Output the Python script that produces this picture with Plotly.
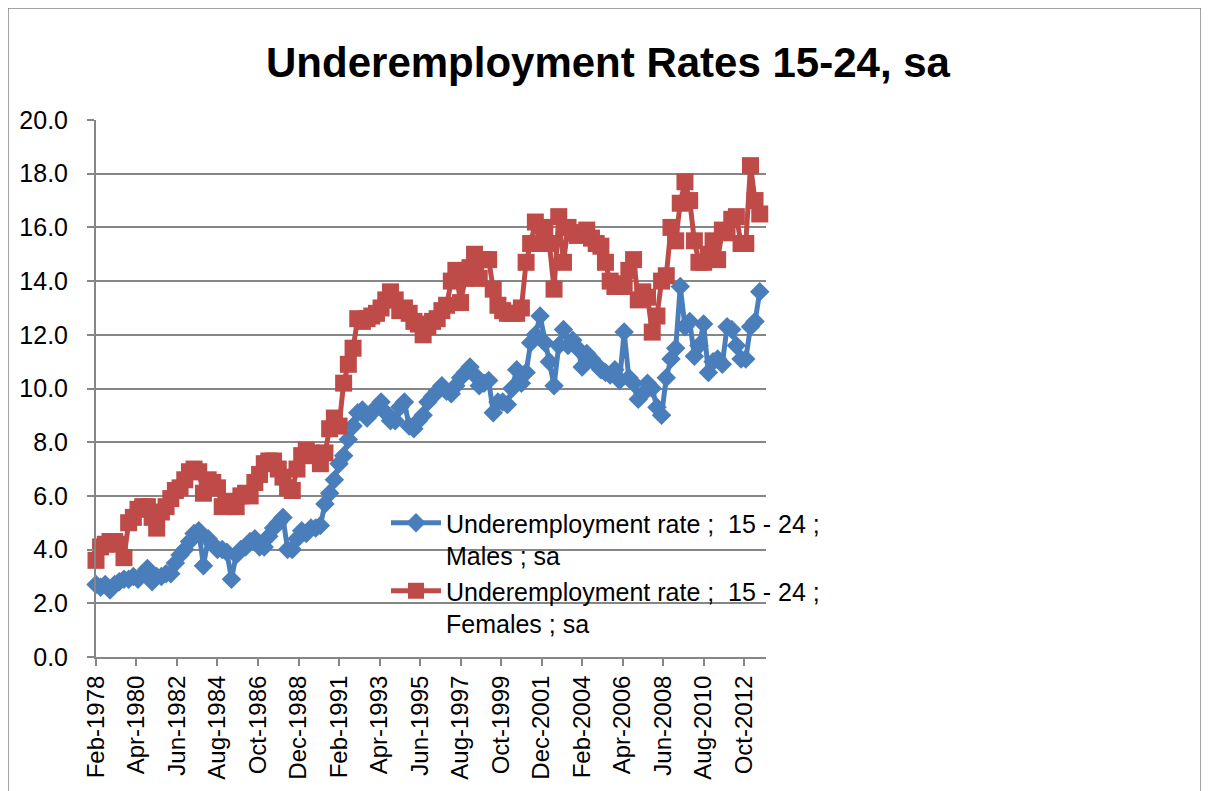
import pandas as pd
import plotly.graph_objects as go

# Quarterly observations, Feb-1978 .. Aug-2013
start_date = "1978-02-01"
n_points = 143

males = [
    2.7, 2.6, 2.7, 2.5, 2.7, 2.8, 2.9, 2.9, 3.0, 2.9,
    3.1, 3.3, 2.8, 3.0, 3.0, 3.1, 3.1, 3.5, 3.8, 4.0,
    4.3, 4.6, 4.7, 3.4, 4.4, 4.2, 4.0, 4.0, 3.9, 2.9,
    3.8, 4.0, 4.1, 4.3, 4.4, 4.1, 4.1, 4.5, 4.8, 5.0,
    5.2, 4.0, 4.0, 4.4, 4.7, 4.6, 4.8, 4.8, 4.9, 5.7,
    6.1, 6.6, 7.2, 7.5, 8.1, 8.6, 9.1, 9.2, 8.9, 9.1,
    9.3, 9.5, 9.1, 8.8, 8.8, 9.3, 9.5, 8.6, 8.5, 8.8,
    9.0, 9.5, 9.7, 9.9, 10.1, 9.9, 9.8, 10.1, 10.4, 10.6,
    10.8, 10.5, 10.1, 10.2, 10.3, 9.1, 9.5, 9.5, 9.4, 10.0,
    10.7, 10.2, 10.6, 11.7, 12.0, 12.7, 11.7, 11.0, 10.1, 11.6,
    12.2, 11.6, 11.8, 11.5, 10.8, 11.3, 11.1, 10.9, 10.7, 10.6,
    10.5, 10.7, 10.3, 12.1, 10.4, 10.2, 9.6, 9.8, 10.2, 10.0,
    9.3, 9.0, 10.4, 11.1, 11.5, 13.8, 12.3, 12.5, 11.2, 11.6,
    12.4, 10.6, 11.0, 11.1, 10.9, 12.3, 12.2, 11.6, 11.1, 11.1,
    12.3, 12.5, 13.6,
]

females = [
    3.6, 4.1, 4.2, 4.3, 4.3, 4.2, 3.7, 5.0, 5.2, 5.5,
    5.6, 5.6, 5.2, 4.8, 5.4, 5.6, 5.9, 6.2, 6.3, 6.6,
    6.9, 7.0, 6.9, 6.1, 6.6, 6.5, 6.3, 5.6, 5.7, 5.8,
    5.6, 6.0, 6.1, 6.0, 6.5, 6.8, 7.2, 7.3, 7.3, 7.0,
    6.7, 6.3, 6.2, 7.0, 7.5, 7.7, 7.6, 7.5, 7.2, 7.6,
    8.5, 8.9, 8.6, 10.2, 10.9, 11.5, 12.6, 12.5, 12.6, 12.7,
    12.8, 13.0, 13.3, 13.6, 13.3, 12.9, 13.0, 12.8, 12.5, 12.4,
    12.0, 12.3, 12.5, 12.6, 12.9, 13.1, 14.0, 14.4, 13.2, 14.1,
    14.5, 15.0, 14.1, 14.8, 14.8, 13.7, 13.1, 12.9, 12.8, 12.8,
    12.8, 13.0, 14.7, 15.4, 16.2, 15.4, 16.0, 15.4, 13.7, 16.4,
    14.7, 16.0, 15.8, 15.7, 15.8, 15.9, 15.6, 15.4, 15.3, 14.7,
    14.0, 13.8, 13.9, 13.8, 14.4, 14.8, 13.3, 13.6, 13.4, 12.1,
    12.7, 14.0, 14.2, 16.0, 15.5, 16.9, 17.7, 17.0, 15.5, 14.7,
    14.7, 15.0, 15.5, 14.8, 15.9, 15.8, 16.3, 16.4, 15.4, 15.4,
    18.3, 17.0, 16.5,
]

tick_dates = ["1978-02-01", "1980-04-01", "1982-06-01", "1984-08-01", "1986-10-01",
              "1988-12-01", "1991-02-01", "1993-04-01", "1995-06-01", "1997-08-01",
              "1999-10-01", "2001-12-01", "2004-02-01", "2006-04-01", "2008-06-01",
              "2010-08-01", "2012-10-01"]
tick_labels = ["Feb-1978", "Apr-1980", "Jun-1982", "Aug-1984", "Oct-1986",
               "Dec-1988", "Feb-1991", "Apr-1993", "Jun-1995", "Aug-1997",
               "Oct-1999", "Dec-2001", "Feb-2004", "Apr-2006", "Jun-2008",
               "Aug-2010", "Oct-2012"]

y_ticks = [0, 2, 4, 6, 8, 10, 12, 14, 16, 18, 20]

series_names = ["Underemployment rate ;  15 - 24 ;<br>Males ; sa",
                "Underemployment rate ;  15 - 24 ;<br>Females ; sa"]
title_text = "Underemployment Rates 15-24, sa"

dates = pd.date_range(start_date, periods=n_points, freq="3MS")

BLUE = "#4A7EBB"
RED = "#BE4B48"
GRID = "#868686"
FONT = "Liberation Sans, Arial, sans-serif"

fig = go.Figure()
fig.add_trace(go.Scatter(
    x=dates, y=males, name=series_names[0], mode="lines+markers",
    line=dict(color=BLUE, width=5),
    marker=dict(symbol="diamond", size=15, color=BLUE, line=dict(width=0)),
    cliponaxis=False,
))
fig.add_trace(go.Scatter(
    x=dates, y=females, name=series_names[1], mode="lines+markers",
    line=dict(color=RED, width=5),
    marker=dict(symbol="square", size=17, color=RED, line=dict(width=0)),
    cliponaxis=False,
))

# page offset of the figure (browser body margin)
OFF = 8
W, H = 1209 - OFF, 791 - OFF
# plot area in page pixels
PL, PR, PT, PB = 96, 766, 120, 657
L = PL - OFF
T = PT - OFF
R = W - (PR - OFF)
B = H - (PB - OFF)
pw = W - L - R
ph = H - T - B

def px_x(px):
    return (px - OFF - L) / pw

def px_y(py):
    return (H - B - (py - OFF)) / ph

fig.update_layout(
    width=W, height=H,
    margin=dict(l=L, r=R, t=T, b=B, autoexpand=False),
    paper_bgcolor="white", plot_bgcolor="white",
    showlegend=True,
    title=dict(text="<b>" + title_text + "</b>", x=(608 - OFF) / W, xanchor="center",
               y=1 - (62 - OFF) / H, yanchor="middle",
               font=dict(family=FONT, size=42, color="black")),
    legend=dict(x=px_x(386), y=px_y(500), xanchor="left", yanchor="top",
                bgcolor="rgba(0,0,0,0)", font=dict(family=FONT, size=25, color="black"),
                valign="top", itemwidth=50, tracegroupgap=0),
    xaxis=dict(
        type="date", range=["1978-02-01", "2013-12-01"],
        tickvals=tick_dates, ticktext=tick_labels, tickangle=-90,
        showgrid=False, showline=True, linecolor=GRID, linewidth=2,
        ticks="outside", ticklen=7, tickcolor=GRID, tickwidth=2,
        tickfont=dict(family=FONT, size=24, color="black"),
        zeroline=False,
    ),
    yaxis=dict(
        range=[0, 20], tickvals=y_ticks, tickformat=".1f",
        showgrid=True, gridcolor=GRID, gridwidth=2,
        showline=True, linecolor=GRID, linewidth=2,
        ticks="outside", ticklen=7, tickcolor=GRID, tickwidth=2,
        tickfont=dict(family=FONT, size=25, color="black"),
        ticklabelstandoff=14, zeroline=False,
    ),
    shapes=[dict(type="rect", xref="paper", yref="paper",
                 x0=px_x(8), x1=px_x(1201), y0=px_y(810), y1=px_y(8),
                 line=dict(color=GRID, width=1.5), fillcolor="rgba(0,0,0,0)",
                 layer="below")],
)

fig.write_html("out.html")
